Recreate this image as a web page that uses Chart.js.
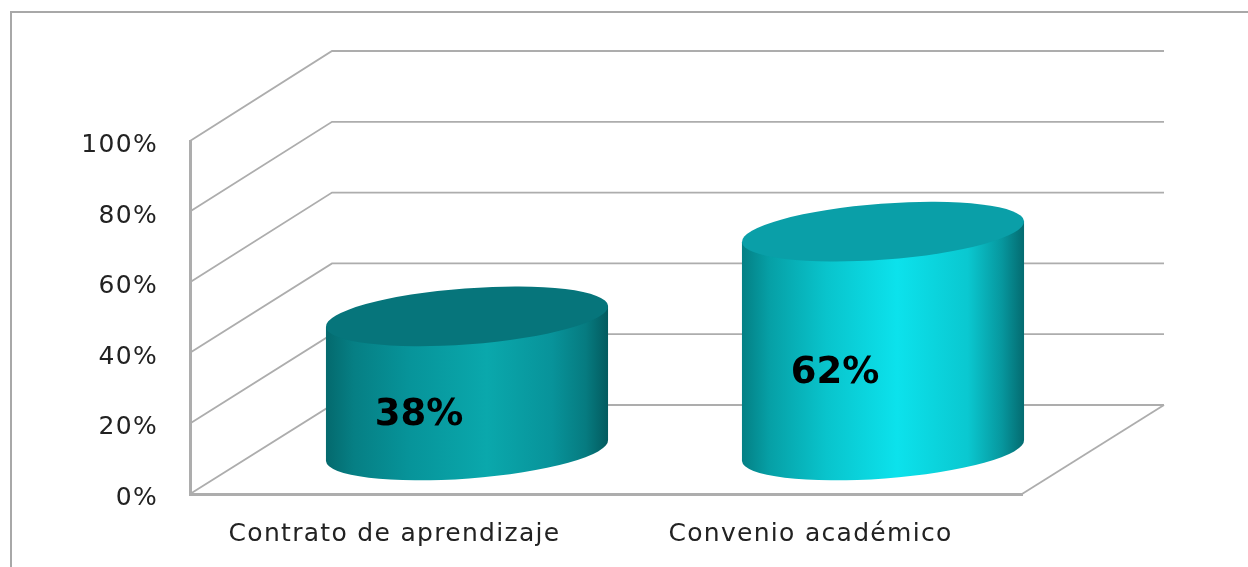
<!DOCTYPE html>
<html><head><meta charset="utf-8">
<script src="https://cdn.jsdelivr.net/npm/chart.js@4"></script>
<style>html,body{margin:0;padding:0;background:#fff}canvas{display:block}</style>
</head><body><canvas id="c" width="1248" height="567"></canvas>
<script>
const categories = ["Contrato de aprendizaje", "Convenio académico"];
const values = [38, 62];
const yTicks = [0, 20, 40, 60, 80, 100];

const depthX = 142, depthY0 = 89, depthY1 = 90;
const cylDX = 69, cylDY = 43.5, cylB = 28, cylRot = -4.3 * Math.PI / 180;
const gridColor = '#adadad';
const sides = [
  {stops:[[0,'#04696d'],[0.1,'#067f84'],[0.3,'#07949a'],[0.57,'#0aa8ac'],[0.8,'#08939a'],[0.92,'#067b80'],[1,'#035a5e']], top:'#06757b'},
  {stops:[[0,'#047f84'],[0.1,'#06a0a6'],[0.3,'#09c4cc'],[0.55,'#0ce2ec'],[0.8,'#0ac8d0'],[0.92,'#07979e'],[1,'#046a6f']], top:'#0a9fa8'}
];

const scene = {
  id:'scene',
  beforeDraw(chart){
    const {ctx, scales:{y}, chartArea:a} = chart;
    ctx.letterSpacing='1.3px';
    ctx.save();
    ctx.fillStyle='#fff'; ctx.fillRect(0,0,chart.width,chart.height);
    ctx.strokeStyle='#a8a8a8'; ctx.lineWidth=2;
    ctx.beginPath(); ctx.moveTo(11,chart.height+2); ctx.lineTo(11,12); ctx.lineTo(chart.width+2,12); ctx.stroke();
    ctx.strokeStyle=gridColor; ctx.lineWidth=1.8;
    yTicks.forEach(v=>{
      const py=y.getPixelForValue(v), by=py-(depthY0+(depthY1-depthY0)*v/100);
      ctx.beginPath(); ctx.moveTo(a.left,py); ctx.lineTo(a.left+depthX,by); ctx.lineTo(a.right+depthX,by); ctx.stroke();
    });
    const p0=y.getPixelForValue(0);
    ctx.beginPath(); ctx.moveTo(a.right,p0); ctx.lineTo(a.right+depthX,p0-depthY0); ctx.stroke();
    ctx.restore();
  },
  afterDatasetsDraw(chart){
    const {ctx}=chart;
    chart.getDatasetMeta(0).data.forEach((el,i)=>{
      const s=sides[i], half=el.width/2, cx=el.x+cylDX;
      const topY=el.y-cylDY, baseY=el.base-cylDY;
      const ca=Math.cos(cylRot)*half, sa=Math.sin(cylRot)*half;
      const g=ctx.createLinearGradient(cx-half,0,cx+half,0);
      s.stops.forEach(([o,c])=>g.addColorStop(o,c));
      ctx.save();
      ctx.letterSpacing='0px';
      ctx.fillStyle=g;
      ctx.beginPath();
      ctx.ellipse(cx,baseY,half,cylB,cylRot,Math.PI,0,true);
      ctx.lineTo(cx+ca,topY+sa);
      ctx.lineTo(cx-ca,topY-sa);
      ctx.closePath(); ctx.fill();
      ctx.fillStyle=s.top;
      ctx.beginPath(); ctx.ellipse(cx,topY,half,cylB,cylRot,0,Math.PI*2); ctx.fill();
      ctx.fillStyle='#000';
      ctx.font='bold 37px "DejaVu Sans"';
      ctx.textAlign='center'; ctx.textBaseline='middle';
      ctx.fillText(values[i]+'%',cx-48,(topY+baseY)/2+32);
      ctx.restore();
    });
  }
};

new Chart(document.getElementById('c'),{
  type:'bar',
  data:{labels:categories,datasets:[{data:values,backgroundColor:'rgba(0,0,0,0)',borderWidth:0,barPercentage:0.68,categoryPercentage:1}]},
  plugins:[scene],
  options:{
    responsive:false,animation:false,
    layout:{padding:{left:0,right:226,top:141,bottom:0}},
    plugins:{legend:{display:false},tooltip:{enabled:false},title:{display:false}},
    scales:{
      x:{
        afterFit:s=>{s.height=73;},
        grid:{display:false,drawTicks:false},
        border:{display:true,color:gridColor,width:3},
        ticks:{color:'#222',font:{family:'"DejaVu Sans"',size:25},padding:25,labelOffset:-3.5,maxRotation:0}
      },
      y:{
        min:0,max:100,
        afterFit:s=>{s.width=190;},
        afterBuildTicks:s=>{s.ticks=yTicks.map(v=>({value:v}));},
        grid:{display:false,drawTicks:false},
        border:{display:true,color:gridColor,width:3},
        ticks:{color:'#222',font:{family:'"DejaVu Sans"',size:25},padding:32,labelOffset:4.5,callback:v=>v+'%'}
      }
    }
  }
});
</script></body></html>
